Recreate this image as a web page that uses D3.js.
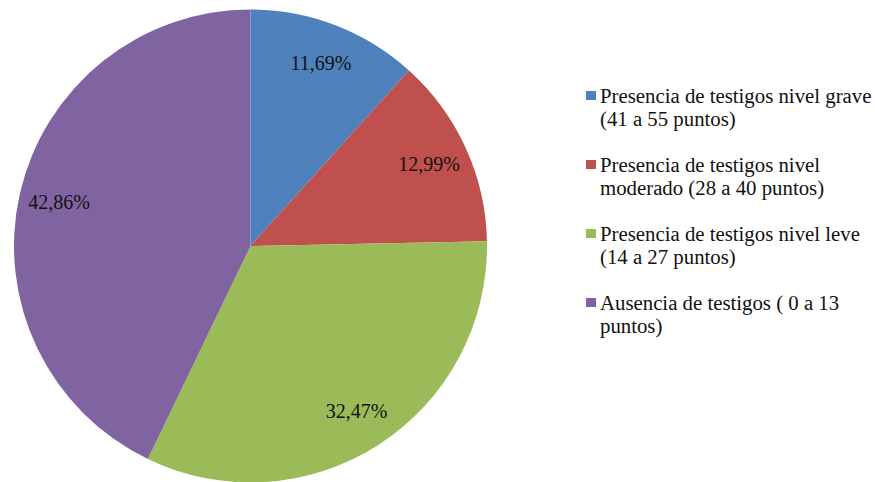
<!DOCTYPE html>
<html>
<head>
<meta charset="utf-8">
<script src="https://cdn.jsdelivr.net/npm/d3@7"></script>
<style>
  html, body { margin: 0; padding: 0; background: #ffffff; }
  svg { display: block; }
</style>
</head>
<body>
<svg id="chart" width="875" height="482"></svg>
<script>
const categories = [
  ["Presencia de testigos nivel grave", "(41 a 55 puntos)"],
  ["Presencia de testigos nivel", "moderado (28 a 40 puntos)"],
  ["Presencia de testigos nivel leve", "(14 a 27 puntos)"],
  ["Ausencia de testigos ( 0 a 13", "puntos)"]
];
const values = [11.69, 12.99, 32.47, 42.86];
const valueLabels = ["11,69%", "12,99%", "32,47%", "42,86%"];
const colors = ["#4F81BD", "#C0504D", "#9BBB59", "#8064A2"];

const FONT = "'Liberation Serif'";
const svg = d3.select("#chart");
const cx = 250.5, cy = 246, r = 236.5;

const pie = d3.pie().sort(null).value(d => d)(values);
const arc = d3.arc().innerRadius(0).outerRadius(r);
const labelArc = d3.arc().innerRadius(r * 0.83).outerRadius(r * 0.83);

const g = svg.append("g").attr("transform", `translate(${cx},${cy})`);
g.selectAll("path").data(pie).join("path")
  .attr("d", arc)
  .attr("fill", (d, i) => colors[i]);

g.selectAll("text.lbl").data(pie).join("text")
  .attr("class", "lbl")
  .attr("transform", d => `translate(${labelArc.centroid(d)})`)
  .attr("text-anchor", "middle")
  .attr("dy", "0.35em")
  .attr("font-family", FONT)
  .attr("font-size", 20)
  .attr("fill", "#111")
  .text((d, i) => valueLabels[i]);

const legend = svg.append("g").attr("transform", "translate(586,0)");
const itemY = d3.scalePoint().domain(d3.range(categories.length)).range([103, 310]);
categories.forEach((lines, i) => {
  const y0 = itemY(i);
  legend.append("rect")
    .attr("x", 0).attr("y", y0 - 12)
    .attr("width", 10).attr("height", 9)
    .attr("fill", colors[i]);
  const t = legend.append("text")
    .attr("x", 14).attr("y", y0)
    .attr("font-family", FONT)
    .attr("font-size", 20.8)
    .attr("fill", "#111");
  lines.forEach((ln, j) => {
    t.append("tspan").attr("x", 14).attr("y", y0 + j * 22.5).text(ln);
  });
});
</script>
</body>
</html>
